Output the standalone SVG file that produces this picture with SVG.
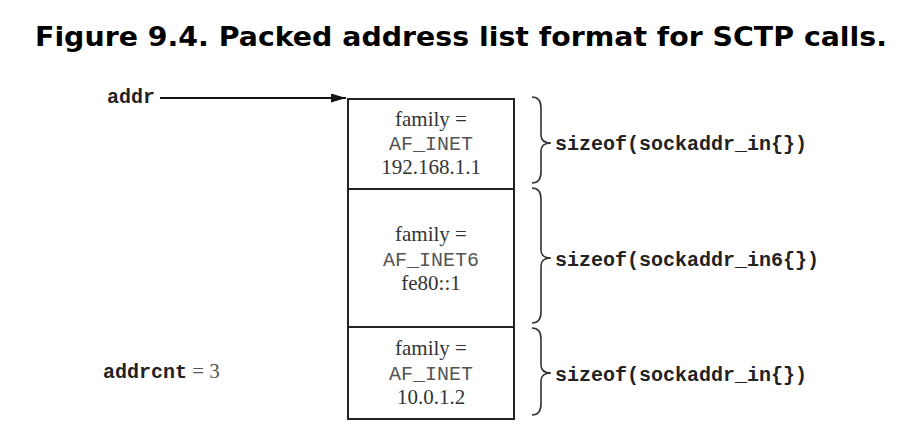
<svg xmlns="http://www.w3.org/2000/svg" width="912" height="429" viewBox="0 0 912 429">
<style>
.title{font-family:"DejaVu Sans",Verdana,sans-serif;font-weight:bold;font-size:27px;fill:#000}
.serif{font-family:"Liberation Serif","Times New Roman",serif;font-size:21px;fill:#333}
.mono{font-family:"Liberation Mono","Courier New",monospace;font-size:20px;fill:#555}
.bmono{font-family:"Liberation Mono","Courier New",monospace;font-size:20px;font-weight:bold;fill:#222}
.cell{fill:#fff;stroke:#222;stroke-width:2}
.brace{fill:none;stroke:#333;stroke-width:1.6}
.conn{stroke:#111;stroke-width:2;fill:none}
</style>
<defs>
<marker id="ah" markerWidth="16" markerHeight="10" refX="15" refY="4.5" orient="auto" markerUnits="userSpaceOnUse">
<path d="M0,0 L15,4.5 L0,9 Z" fill="#111"/>
</marker>
</defs>
<rect width="912" height="429" fill="#fff"/>
<text class="title" x="35" y="46" textLength="852" lengthAdjust="spacingAndGlyphs">Figure 9.4. Packed address list format for SCTP calls.</text>

<g id="addr-label">
<text class="bmono" x="107" y="103">addr</text>
</g>
<g id="addrcnt-label">
<text x="103" y="378"><tspan class="bmono">addrcnt</tspan><tspan class="serif" style="fill:#555"> = 3</tspan></text>
</g>

<g id="node1">
<rect class="cell" x="348" y="99" width="166" height="90"/>
<text class="serif" x="431" y="126" text-anchor="middle">family =</text>
<text class="mono" x="431" y="150" text-anchor="middle">AF_INET</text>
<text class="serif" x="431" y="174" text-anchor="middle">192.168.1.1</text>
</g>
<g id="node2">
<rect class="cell" x="348" y="189" width="166" height="138"/>
<text class="serif" x="431" y="241" text-anchor="middle">family =</text>
<text class="mono" x="431" y="266" text-anchor="middle">AF_INET6</text>
<text class="serif" x="431" y="290" text-anchor="middle">fe80::1</text>
</g>
<g id="node3">
<rect class="cell" x="348" y="327" width="166" height="92"/>
<text class="serif" x="431" y="355" text-anchor="middle">family =</text>
<text class="mono" x="431" y="380" text-anchor="middle">AF_INET</text>
<text class="serif" x="431" y="404" text-anchor="middle">10.0.1.2</text>
</g>

<g id="brace1">
<path class="brace" d="M532,97 Q541,97 541,108 L541,135 Q541,143 551,143 Q541,143 541,151 L541,172 Q541,183 532,183"/>
<text class="bmono" x="555" y="150">sizeof(sockaddr_in{})</text>
</g>
<g id="brace2">
<path class="brace" d="M532,188 Q541,188 541,199 L541,250 Q541,258 551,258 Q541,258 541,266 L541,312 Q541,323 532,323"/>
<text class="bmono" x="555" y="266">sizeof(sockaddr_in6{})</text>
</g>
<g id="brace3">
<path class="brace" d="M532,328 Q541,328 541,339 L541,365 Q541,373 551,373 Q541,373 541,381 L541,404 Q541,415 532,415"/>
<text class="bmono" x="555" y="381">sizeof(sockaddr_in{})</text>
</g>

<g id="connectors">
<line class="conn" x1="160" y1="98" x2="346" y2="98" marker-end="url(#ah)"/>
</g>
</svg>
